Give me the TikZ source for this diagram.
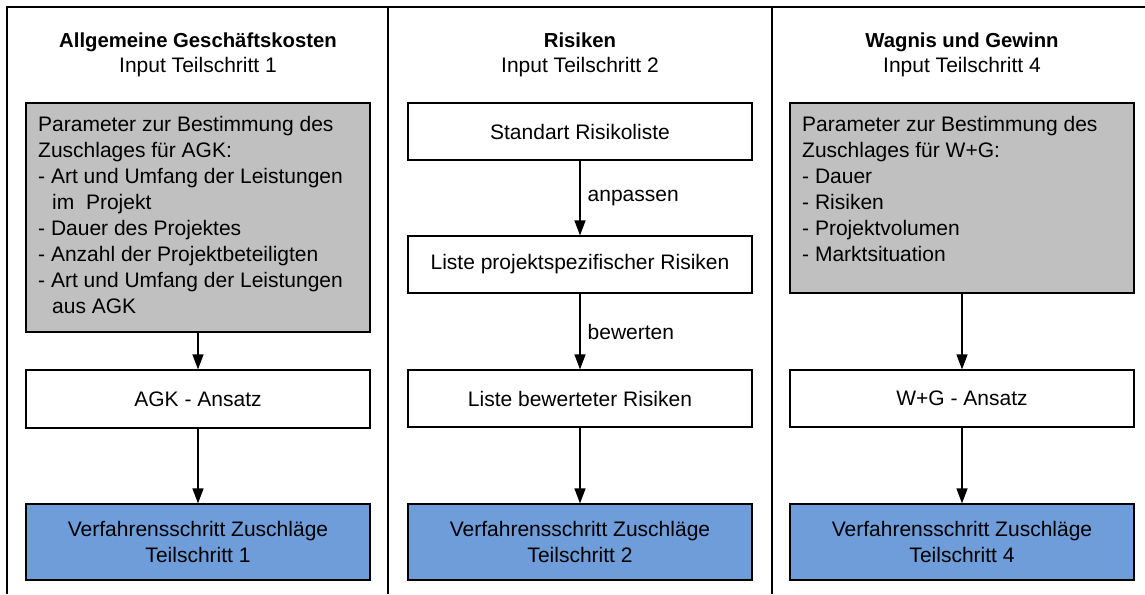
\documentclass[tikz,border=0pt]{standalone}
\usepackage{fontspec}
\setmainfont{Liberation Sans}
\usetikzlibrary{arrows.meta}
\definecolor{paramgray}{RGB}{192,192,192}
\definecolor{stepblue}{RGB}{111,157,217}

\begin{document}
\begin{tikzpicture}[x=1pt,y=-1pt,
  txt/.style={font=\fontsize{21}{26}\selectfont},
  heading/.style={font=\bfseries\fontsize{20.3}{25}\selectfont, anchor=base, inner sep=0pt},
  subheading/.style={txt, anchor=base, inner sep=0pt},
  box/.style={draw=black, line width=1.2pt, minimum width=344pt, inner sep=2pt, align=center, txt},
  whitebox/.style={box, fill=white},
  graybox/.style={box, fill=paramgray},
  bluebox/.style={box, fill=stepblue},
  paramtext/.style={txt, anchor=north west, align=left, inner sep=0pt},
  flow/.style={-{Triangle[length=15pt,width=11pt]}, line width=1.3pt},
  edgelabel/.style={txt, right=4pt, inner sep=3pt},
  frameline/.style={line width=1.8pt}]

\useasboundingbox (0,0) rectangle (1145,594);

% frame and column dividers
\draw[frameline] (7,594) -- (7,7) -- (1145,7);
\draw[frameline] (388,7) -- (388,594);
\draw[frameline] (772,7) -- (772,594);

% --- column 1: Allgemeine Geschaeftskosten
\node[heading] (h1) at (198,48) {Allgemeine Geschäftskosten};
\node[subheading] (s1) at (198,73) {Input Teilschritt 1};
\node[graybox, minimum height=229pt] (agkpar) at (198,217.5) {};
\node[paramtext] (agkpartext) at (38,115.7) {Parameter zur Bestimmung des\\
Zuschlages für AGK:\\
- Art und Umfang der Leistungen\\
\hspace*{14pt}im\ \ Projekt\\
- Dauer des Projektes\\
- Anzahl der Projektbeteiligten\\
- Art und Umfang der Leistungen\\
\hspace*{14pt}aus AGK};
\node[whitebox, minimum height=58pt] (agk) at (198,399) {AGK - Ansatz};
\node[bluebox, minimum height=76pt] (ts1) at (198,542) {Verfahrensschritt Zuschläge\\Teilschritt 1};
\draw[flow] (agkpar) -- (agk);
\draw[flow] (agk) -- (ts1);

% --- column 2: Risiken
\node[heading] (h2) at (580,48) {Risiken};
\node[subheading] (s2) at (580,73) {Input Teilschritt 2};
\node[whitebox, minimum height=57pt] (std) at (580,131.5) {Standart Risikoliste};
\node[whitebox, minimum height=57pt] (lps) at (580,264.5) {Liste projektspezifischer Risiken};
\node[whitebox, minimum height=57pt] (lbr) at (580,398.5) {Liste bewerteter Risiken};
\node[bluebox, minimum height=76pt] (ts2) at (580,542) {Verfahrensschritt Zuschläge\\Teilschritt 2};
\draw[flow] (std) -- node[edgelabel] (anp) {anpassen} (lps);
\draw[flow] (lps) -- node[edgelabel] (bew) {bewerten} (lbr);
\draw[flow] (lbr) -- (ts2);

% --- column 3: Wagnis und Gewinn
\node[heading] (h3) at (962,48) {Wagnis und Gewinn};
\node[subheading] (s3) at (962,73) {Input Teilschritt 4};
\node[graybox, minimum height=190pt] (wgpar) at (962,198) {};
\node[paramtext] (wgpartext) at (802,115.7) {Parameter zur Bestimmung des\\
Zuschlages für W+G:\\
- Dauer\\
- Risiken\\
- Projektvolumen\\
- Marktsituation};
\node[whitebox, minimum height=57pt] (wg) at (962,398.5) {W+G - Ansatz};
\node[bluebox, minimum height=76pt] (ts4) at (962,542) {Verfahrensschritt Zuschläge\\Teilschritt 4};
\draw[flow] (wgpar) -- (wg);
\draw[flow] (wg) -- (ts4);

\end{tikzpicture}
\end{document}
